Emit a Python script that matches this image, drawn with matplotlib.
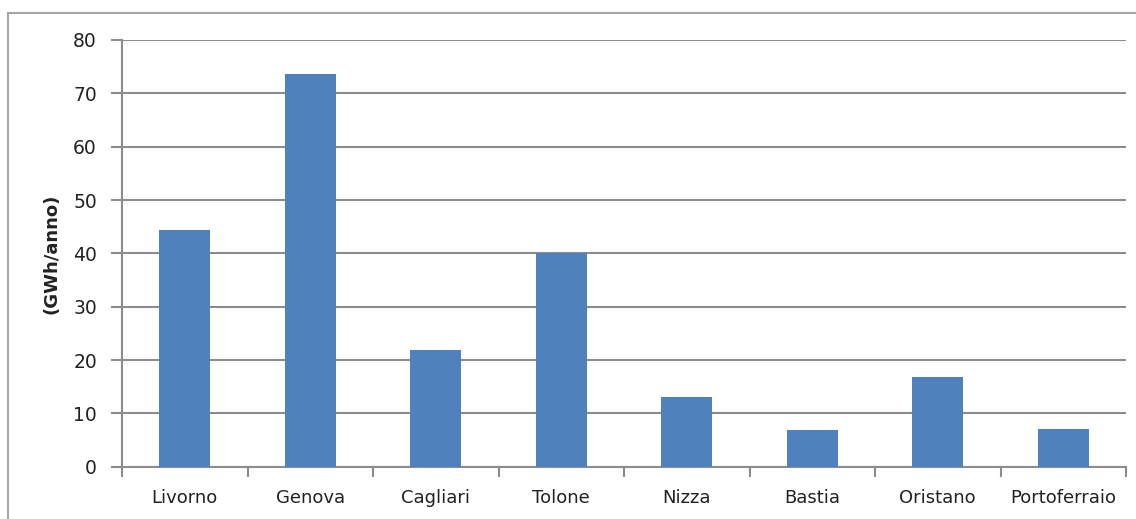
import matplotlib
matplotlib.use("Agg")
import matplotlib.pyplot as plt
from matplotlib.lines import Line2D
import numpy as np

# annual energy per port (GWh/anno)
ports = ["Livorno", "Genova", "Cagliari", "Tolone", "Nizza", "Bastia", "Oristano", "Portoferraio"]
energy = [44.4, 73.6, 21.9, 40.0, 13.1, 6.8, 16.8, 7.1]
yticks = [0, 10, 20, 30, 40, 50, 60, 70, 80]

BAR = "#4F81BD"
GRID = "#8C8C8C"
TEXT = "#222222"

W, H = 1136, 519
fig = plt.figure(figsize=(W / 100, H / 100), dpi=100)
fig.patch.set_facecolor("white")

# outer chart frame (top and left edges only visible)
fig.add_artist(Line2D([8 / W, 1.0], [1 - 13 / H, 1 - 13 / H], color="#A6A6A6", lw=1.5))
fig.add_artist(Line2D([8 / W, 8 / W], [0, 1 - 13 / H], color="#A6A6A6", lw=1.5))

left, right = 122 / W, 1126 / W
bottom, top = 1 - 466.7 / H, 1 - 40 / H
ax = fig.add_axes([left, bottom, right - left, top - bottom])

x = np.arange(len(ports))
ax.bar(x, energy, width=0.41, color=BAR, zorder=3)

ax.set_xlim(-0.5, len(ports) - 0.5)
ax.set_ylim(0, 80)
ax.set_yticks(yticks)
ax.yaxis.grid(True, color=GRID, lw=1.5, zorder=0)

ax.set_xticks(x)
ax.set_xticklabels(ports)
ax.set_xticks(np.arange(len(ports) + 1) - 0.5, minor=True)
ax.tick_params(axis="x", which="major", length=0, pad=16, labelsize=13, labelcolor=TEXT)
ax.tick_params(axis="x", which="minor", length=7, width=1.5, color=GRID, direction="out")
ax.tick_params(axis="y", length=8, width=1.5, color=GRID, pad=10, labelsize=13.5, labelcolor=TEXT)

for s in ("top", "right"):
    ax.spines[s].set_visible(False)
for s in ("left", "bottom"):
    ax.spines[s].set_color(GRID)
    ax.spines[s].set_linewidth(1.5)

ax.set_ylabel("(GWh/anno)", fontsize=13, fontweight="bold", color=TEXT, labelpad=9)

fig.savefig("out.png", dpi=100)
